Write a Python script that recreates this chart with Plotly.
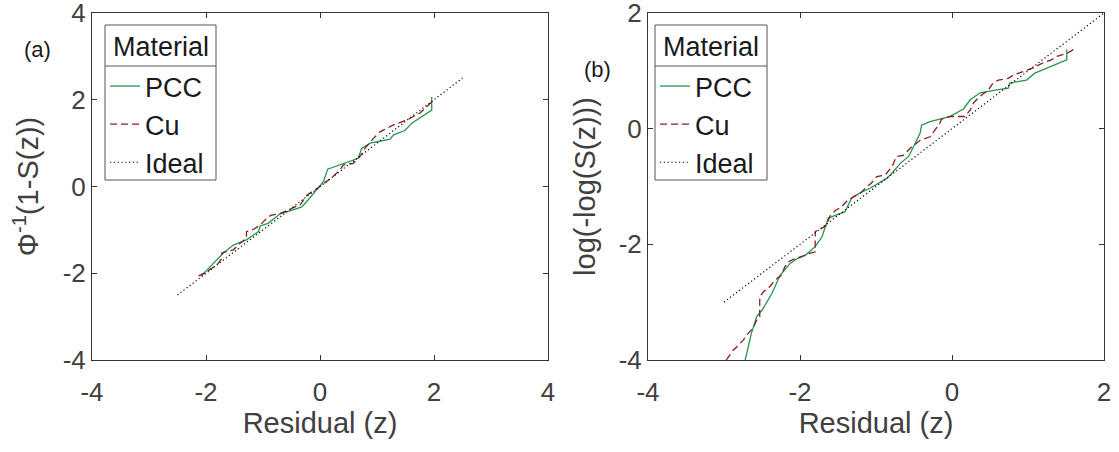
import plotly.graph_objects as go

# ---------------- data ----------------
# Panel (a): normal probability plot
pcc_a_x = [-2.08, -1.87, -1.70, -1.52, -1.29, -1.08, -1.05, -0.91, -0.70, -0.47, -0.32, -0.21, -0.06,
           0.06, 0.135, 0.35, 0.50, 0.58, 0.67, 0.73, 0.88, 1.23, 1.29, 1.49, 1.61, 1.96, 1.96]
pcc_a_y = [-2.06, -1.77, -1.54, -1.35, -1.23, -1.04, -0.91, -0.85, -0.63, -0.54, -0.47, -0.31, -0.08,
           0.11, 0.40, 0.50, 0.57, 0.61, 0.65, 0.88, 1.00, 1.09, 1.19, 1.29, 1.46, 1.76, 2.06]
cu_a_x = [-2.13, -2.02, -1.81, -1.72, -1.72, -1.52, -1.40, -1.29, -1.29, -1.17, -1.05, -0.91, -0.85,
          -0.70, -0.53, -0.44, -0.35, -0.23, 0.00, 0.12, 0.23, 0.35, 0.41, 0.58, 0.70, 0.79, 0.91,
          1.05, 1.29, 1.52, 1.75, 1.96, 1.96]
cu_a_y = [-2.06, -1.99, -1.81, -1.66, -1.53, -1.46, -1.31, -1.19, -1.04, -0.99, -0.89, -0.70, -0.66,
          -0.62, -0.53, -0.47, -0.43, -0.20, 0.00, 0.11, 0.23, 0.38, 0.50, 0.53, 0.69, 0.88, 1.07,
          1.26, 1.42, 1.53, 1.69, 1.95, 2.06]
ideal_a_x = [-2.5, 2.5]
ideal_a_y = [-2.5, 2.5]

# Panel (b): Gumbel (log-log) probability plot
pcc_b_x = [-2.73, -2.64, -2.57, -2.50, -2.37, -2.26, -2.13, -2.04, -1.93, -1.80, -1.71, -1.67, -1.63,
           -1.52, -1.41, -1.32, -1.21, -1.08, -0.86, -0.77, -0.68, -0.57, -0.51, -0.42, -0.40, -0.29,
           -0.03, 0.15, 0.24, 0.37, 0.59, 0.74, 0.76, 0.98, 1.09, 1.51, 1.51]
pcc_b_y = [-4.05, -3.54, -3.25, -3.14, -2.85, -2.53, -2.33, -2.25, -2.19, -2.04, -1.87, -1.70, -1.55,
           -1.49, -1.44, -1.20, -1.11, -1.03, -0.86, -0.74, -0.60, -0.48, -0.31, -0.08, 0.06, 0.12,
           0.21, 0.34, 0.50, 0.62, 0.67, 0.70, 0.79, 0.84, 0.96, 1.19, 1.37]
cu_b_x = [-2.97, -2.88, -2.83, -2.75, -2.70, -2.61, -2.57, -2.53, -2.53, -2.48, -2.39, -2.33, -2.24,
          -2.20, -2.15, -2.09, -1.98, -1.89, -1.80, -1.80, -1.71, -1.65, -1.61, -1.54, -1.45, -1.39,
          -1.30, -1.21, -1.14, -1.06, -0.99, -0.88, -0.79, -0.77, -0.73, -0.64, -0.55, -0.49, -0.42,
          -0.29, -0.20, -0.16, -0.14, -0.03, 0.04, 0.17, 0.24, 0.28, 0.36, 0.48, 0.54, 0.61, 0.74,
          0.81, 0.94, 1.07, 1.14, 1.20, 1.31, 1.38, 1.51, 1.60]
cu_b_y = [-4.00, -3.83, -3.77, -3.66, -3.57, -3.43, -3.31, -3.25, -2.91, -2.82, -2.72, -2.62, -2.53,
          -2.39, -2.30, -2.26, -2.21, -2.16, -2.13, -1.78, -1.72, -1.67, -1.52, -1.42, -1.35, -1.26,
          -1.18, -1.12, -1.03, -0.94, -0.83, -0.80, -0.66, -0.60, -0.48, -0.46, -0.34, -0.28, -0.20,
          -0.14, 0.03, 0.09, 0.16, 0.21, 0.21, 0.21, 0.32, 0.44, 0.55, 0.67, 0.79, 0.84, 0.87,
          0.93, 0.99, 1.05, 1.10, 1.14, 1.19, 1.25, 1.30, 1.37]
ideal_b_x = [-3, 2]
ideal_b_y = [-3, 2]

x_ticks_a = [-4, -2, 0, 2, 4]
y_ticks_a = [-4, -2, 0, 2, 4]
x_ticks_b = [-4, -2, 0, 2]
y_ticks_b = [-4, -2, 0, 2]

legend_title = "Material"

# ---------------- styles ----------------
GREEN = "#23964f"
RED = "#8b1c24"
AXIS = "#333333"
LEGBOX = "#555555"
TXT = "#404040"
FONT = "Liberation Sans, Arial, Helvetica, sans-serif"

W, H = 1119, 452
ML, MR, MT, MB = 92, 15, 13, 92
PW = W - ML - MR
PH = H - MT - MB


def px_x(p):
    return (p - ML) / PW


def px_y(p):
    return (H - MB - p) / PH


fig = go.Figure()

for (xs, ys, nm, col, dash, wid, xa, ya, lg) in [
    (pcc_a_x, pcc_a_y, "PCC", GREEN, "solid", 1.3, "x", "y", "legend"),
    (cu_a_x, cu_a_y, "Cu", RED, "7px,4px", 1.3, "x", "y", "legend"),
    (ideal_a_x, ideal_a_y, "Ideal", "#000000", "1.2px,2.6px", 1.2, "x", "y", "legend"),
    (pcc_b_x, pcc_b_y, "PCC", GREEN, "solid", 1.3, "x2", "y2", "legend2"),
    (cu_b_x, cu_b_y, "Cu", RED, "7px,4px", 1.3, "x2", "y2", "legend2"),
    (ideal_b_x, ideal_b_y, "Ideal", "#000000", "1.2px,2.6px", 1.2, "x2", "y2", "legend2"),
]:
    fig.add_trace(go.Scatter(x=xs, y=ys, name=nm, mode="lines",
                             line=dict(color=col, dash=dash, width=wid),
                             xaxis=xa, yaxis=ya, legend=lg, legendgroup=lg + nm,
                             cliponaxis=True))

axis_common = dict(showline=True, linecolor=AXIS, linewidth=1, mirror="ticks",
                   ticks="inside", ticklen=5, tickcolor=AXIS, tickwidth=1,
                   showgrid=False, zeroline=False, ticklabeloverflow="allow",
                   automargin=False,
                   tickfont=dict(family=FONT, size=26, color=TXT))

legend_common = dict(font=dict(family=FONT, size=27, color="#1a1a1a"),
                     bgcolor="rgba(0,0,0,0)", borderwidth=0,
                     itemwidth=30, tracegroupgap=0, xanchor="left", yanchor="top")

fig.update_layout(
    width=W, height=H,
    margin=dict(l=ML, r=MR, t=MT, b=MB, autoexpand=False),
    plot_bgcolor="white", paper_bgcolor="white",
    font=dict(family=FONT, color=TXT),
    xaxis=dict(domain=[0, 456 / PW], range=[-4, 4], tickvals=x_ticks_a,
               ticktext=[str(v) for v in x_ticks_a], ticklabelstandoff=9,
               title=dict(text="Residual (z)", font=dict(size=29, color=TXT), standoff=1),
               anchor="y", **axis_common),
    yaxis=dict(domain=[0, 1], range=[-4, 4], tickvals=y_ticks_a,
               ticktext=[str(v) for v in y_ticks_a],
               title=dict(text="Φ<sup>-1</sup>(1-S(z))", font=dict(size=29, color=TXT), standoff=15),
               anchor="x", **axis_common),
    xaxis2=dict(domain=[556 / PW, 1], range=[-4, 2], tickvals=x_ticks_b,
                ticktext=[str(v) for v in x_ticks_b], ticklabelstandoff=9,
                title=dict(text="Residual (z)", font=dict(size=29, color=TXT), standoff=1),
                anchor="y2", **axis_common),
    yaxis2=dict(domain=[0, 1], range=[-4, 2], tickvals=y_ticks_b,
                ticktext=[str(v) for v in y_ticks_b],
                title=dict(text="log(-log(S(z)))", font=dict(size=29, color=TXT), standoff=14),
                anchor="x2", **axis_common),
    legend=dict(x=px_x(105), y=px_y(62), **legend_common),
    legend2=dict(x=px_x(655), y=px_y(62), **legend_common),
    showlegend=True,
)

fig.add_annotation(text="(a)", x=px_x(37), y=px_y(50), xref="paper", yref="paper",
                   xanchor="center", yanchor="middle",
                   showarrow=False, font=dict(family=FONT, size=22, color="#1a1a1a"))
fig.add_annotation(text="(b)", x=px_x(597), y=px_y(69), xref="paper", yref="paper",
                   xanchor="center", yanchor="middle",
                   showarrow=False, font=dict(family=FONT, size=22, color="#1a1a1a"))

# legend frames, title separators and titles
for x0, x1 in [(105, 216), (655, 767)]:
    fig.add_shape(type="rect", xref="paper", yref="paper",
                  x0=px_x(x0), x1=px_x(x1), y0=px_y(180), y1=px_y(25),
                  line=dict(color=LEGBOX, width=1), fillcolor="rgba(0,0,0,0)")
    fig.add_shape(type="line", xref="paper", yref="paper",
                  x0=px_x(x0), x1=px_x(x1), y0=px_y(66), y1=px_y(66),
                  line=dict(color=LEGBOX, width=1))
    fig.add_annotation(text=legend_title, x=px_x((x0 + x1) / 2), y=px_y(47),
                       xref="paper", yref="paper", xanchor="center", yanchor="middle",
                       showarrow=False, font=dict(family=FONT, size=27, color="#1a1a1a"))

fig.write_html("out.html")
